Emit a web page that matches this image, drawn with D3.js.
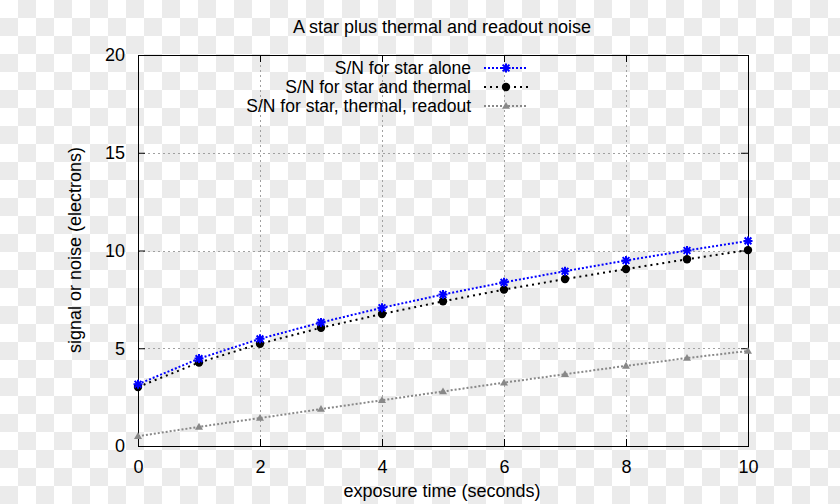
<!DOCTYPE html>
<html>
<head>
<meta charset="utf-8">
<script src="https://cdn.jsdelivr.net/npm/d3@7"></script>
<style>
html,body{margin:0;padding:0;}
svg{display:block;font-family:"Liberation Sans",Arial,sans-serif;}
</style>
</head>
<body>
<svg id="chart" width="840" height="504"></svg>
<script>
// ---- data ----
const times = [0, 1, 2, 3, 4, 5, 6, 7, 8, 9, 10];
const starAlone = [3.16, 4.47, 5.48, 6.32, 7.07, 7.75, 8.37, 8.94, 9.49, 10.0, 10.49];
const starThermal = [3.02, 4.27, 5.23, 6.05, 6.75, 7.40, 8.00, 8.54, 9.05, 9.55, 10.02];
const starThermalReadout = [0.50, 0.98, 1.43, 1.89, 2.34, 2.79, 3.24, 3.67, 4.10, 4.50, 4.86];
const xTicks = [0, 2, 4, 6, 8, 10];
const yTicks = [0, 5, 10, 15, 20];
const seriesNames = ["S/N for star alone", "S/N for star and thermal", "S/N for star, thermal, readout"];
const titleText = "A star plus thermal and readout noise";
const xLabel = "exposure time (seconds)";
const yLabel = "signal or noise (electrons)";

const svg = d3.select("#chart");
const W = 840, H = 504;

// checkerboard background (transparent-image look)
const defs = svg.append("defs");
const pat = defs.append("pattern").attr("id","checker").attr("width",36).attr("height",36)
  .attr("patternUnits","userSpaceOnUse");
pat.append("rect").attr("width",36).attr("height",36).attr("fill","#ffffff");
pat.append("rect").attr("x",18).attr("y",0).attr("width",18).attr("height",18).attr("fill","#ebebeb");
pat.append("rect").attr("x",0).attr("y",18).attr("width",18).attr("height",18).attr("fill","#ebebeb");
svg.append("rect").attr("width",W).attr("height",H).attr("fill","url(#checker)");

const L = 138, R = 748, T = 55, B = 446;
const x = d3.scaleLinear().domain([0, 10]).range([L, R]);
const y = d3.scaleLinear().domain([0, 20]).range([B, T]);

// grid
const grid = svg.append("g").attr("stroke","#a0a0a0").attr("stroke-width",1).attr("stroke-dasharray","2,3");
xTicks.filter(t => t > 0 && t < 10).forEach(t => {
  grid.append("line").attr("x1", x(t)+0.5).attr("x2", x(t)+0.5).attr("y1", T).attr("y2", B);
});
yTicks.filter(t => t > 0 && t < 20).forEach(t => {
  grid.append("line").attr("y1", Math.round(y(t))+0.5).attr("y2", Math.round(y(t))+0.5).attr("x1", L).attr("x2", R);
});

// axes (ticks inward, mirrored)
const fs = 18;
const axB = svg.append("g").attr("transform", `translate(0,${B})`)
  .call(d3.axisBottom(x).tickValues(xTicks).tickSize(-7).tickPadding(14).tickFormat(d3.format("d")));
const axT = svg.append("g").attr("transform", `translate(0,${T})`)
  .call(d3.axisTop(x).tickValues(xTicks).tickSize(-7).tickFormat(""));
const axL = svg.append("g").attr("transform", `translate(${L},0)`)
  .call(d3.axisLeft(y).tickValues(yTicks).tickSize(-7).tickPadding(13).tickFormat(d3.format("d")));
const axR = svg.append("g").attr("transform", `translate(${R},0)`)
  .call(d3.axisRight(y).tickValues(yTicks).tickSize(-7).tickFormat(""));
[axB, axT, axL, axR].forEach(a => {
  a.select(".domain").remove();
  a.selectAll("line").attr("stroke","#000");
  a.selectAll("text").attr("font-size", fs).attr("font-family","Liberation Sans, Arial, sans-serif").attr("fill","#000");
});

// border
svg.append("rect").attr("x", L+0.5).attr("y", T+0.5).attr("width", R-L).attr("height", B-T)
  .attr("fill","none").attr("stroke","#000").attr("stroke-width",1);

// series
const line = d3.line().x((d,i) => x(times[i])).y(d => y(d));
const styles = [
  {data: starAlone, color: "#0000ff", dash: "2,2", marker: "star"},
  {data: starThermal, color: "#000000", dash: "2,4", marker: "circle"},
  {data: starThermalReadout, color: "#888888", dash: "2,2", marker: "triangle"}
];

function drawMarker(g, type, cx, cy, color) {
  if (type === "star") {
    const s = 4.5;
    const p = `M${cx-s},${cy}L${cx+s},${cy}M${cx},${cy-s}L${cx},${cy+s}M${cx-s*0.75},${cy-s*0.75}L${cx+s*0.75},${cy+s*0.75}M${cx-s*0.75},${cy+s*0.75}L${cx+s*0.75},${cy-s*0.75}`;
    g.append("path").attr("d", p).attr("stroke", color).attr("stroke-width", 2).attr("fill","none");
  } else if (type === "circle") {
    g.append("circle").attr("cx", cx).attr("cy", cy).attr("r", 4.2).attr("fill", color);
  } else {
    const s = 4;
    g.append("path").attr("d", `M${cx},${cy-s}L${cx+s},${cy+s*0.7}L${cx-s},${cy+s*0.7}Z`).attr("fill", color);
  }
}

styles.slice().reverse().forEach(st => {
  svg.append("path").attr("d", line(st.data)).attr("fill","none")
    .attr("stroke", st.color).attr("stroke-width", 2).attr("stroke-dasharray", st.dash);
  const g = svg.append("g");
  st.data.forEach((v, i) => drawMarker(g, st.marker, x(times[i]), y(v), st.color));
});

// legend
const legRows = [68, 87, 106];
styles.forEach((st, i) => {
  const ly = legRows[i];
  svg.append("text").attr("x", 471).attr("y", ly).attr("dy","0.35em").attr("text-anchor","end")
    .attr("font-size", 17.5).text(seriesNames[i]);
  svg.append("line").attr("x1", 484).attr("x2", 528).attr("y1", ly).attr("y2", ly)
    .attr("stroke", st.color).attr("stroke-width", 2).attr("stroke-dasharray", st.dash);
  drawMarker(svg.append("g"), st.marker, 506, ly, st.color);
});

// title & labels
svg.append("text").attr("x", 442).attr("y", 27).attr("dy","0.35em").attr("text-anchor","middle")
  .attr("font-size", fs).text(titleText);
svg.append("text").attr("x", 442).attr("y", 491).attr("dy","0.35em").attr("text-anchor","middle")
  .attr("font-size", fs).text(xLabel);
svg.append("text").attr("transform","translate(75,250) rotate(-90)").attr("dy","0.35em").attr("text-anchor","middle")
  .attr("font-size", fs).text(yLabel);
</script>
</body>
</html>
